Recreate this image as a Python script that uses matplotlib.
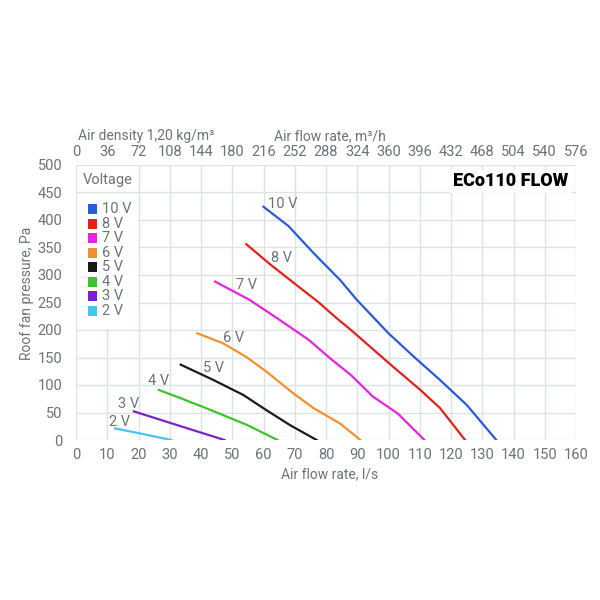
import matplotlib.pyplot as plt
from matplotlib.patches import Rectangle

plt.rcParams['font.family'] = ['Roboto', 'DejaVu Sans']

# fan curves, air flow l/s vs pressure Pa
v10_x = [60, 68, 76, 84.5, 90, 100, 108, 116.5, 125, 134.5]
v10_y = [424, 389, 340, 291, 254, 194, 152, 109, 64, 0]
v8_x = [54.5, 62, 70.5, 77.5, 83.5, 88, 101.5, 110, 116.5, 124.5]
v8_y = [356, 320, 282, 251, 221, 200, 133, 92, 58, 0]
v7_x = [44.5, 55.5, 65, 74.5, 81, 88, 95, 103, 111.5]
v7_y = [288, 255, 219, 182, 150, 118, 79, 48, 0]
v6_x = [38.8, 47, 54.5, 61, 69.5, 76, 84.5, 91]
v6_y = [194, 176, 151, 124, 85, 58, 30, 0]
v5_x = [33.5, 44, 53.5, 61, 68.5, 77]
v5_y = [137, 109, 82, 54, 27, 0]
v4_x = [26.5, 33.5, 42, 54.5, 64.5]
v4_y = [91, 76, 57, 28, 0]
v3_x = [18.5, 28, 38, 47.5]
v3_y = [52, 35, 17, 0]
v2_x = [12.5, 20.5, 30.5]
v2_y = [21, 12, 0]

labels = ['10 V', '8 V', '7 V', '6 V', '5 V', '4 V', '3 V', '2 V']
colors = ['#2a5bd7', '#e3211c', '#e724dc', '#f0912b', '#1a1a1a', '#3cc52a', '#7a22d1', '#45c4f0']
curves = [(v10_x, v10_y), (v8_x, v8_y), (v7_x, v7_y), (v6_x, v6_y),
          (v5_x, v5_y), (v4_x, v4_y), (v3_x, v3_y), (v2_x, v2_y)]
# where the curve labels sit
label_pos = [(61.5, 429), (62.4, 331), (51.2, 282), (47.1, 186),
             (40.5, 130), (22.9, 107), (13.5, 65), (10.7, 32)]

grey = '#6b7378'
gridc = '#dde2e5'
fs = 10.5

fig = plt.figure(figsize=(6, 6), dpi=100)
ax = fig.add_axes([76/600, 1-440/600, 500/600, 275/600])
ax.set_xlim(0, 160)
ax.set_ylim(0, 500)
ax.set_xticks(range(0, 161, 10))
ax.set_yticks(range(0, 501, 50))
ax.grid(True, color=gridc, lw=1)
ax.set_axisbelow(True)
for s in ax.spines.values():
    s.set_visible(False)
ax.tick_params(length=0, labelsize=fs, labelcolor=grey, pad=6)
ax.tick_params(axis='y', pad=10)

ax.set_xlabel('Air flow rate, l/s', fontsize=10, color=grey)
ax.xaxis.set_label_coords(0.507, -0.1)
ax.set_ylabel('Roof fan pressure, Pa', fontsize=10, color=grey)
ax.yaxis.set_label_coords(-0.084, 0.535)

top = ax.secondary_xaxis('top', functions=(lambda x: x * 3.6, lambda x: x / 3.6))
top.set_xticks(range(0, 577, 36))
top.tick_params(length=0, labelsize=fs, labelcolor=grey, pad=4)
for s in top.spines.values():
    s.set_visible(False)
fig.text(78/600, 1-136/600, 'Air density 1,20 kg/m³', fontsize=10, color=grey, va='center')
fig.text(330/600, 1-136/600, 'Air flow rate, m³/h', fontsize=10, color=grey, va='center', ha='center')

# legend box
ax.add_patch(Rectangle((0.4, 201), 19.3, 298, facecolor='white', edgecolor='none', zorder=1.5))
ax.plot([0, 20], [450, 450], color=gridc, lw=1, zorder=1.6)
ax.text(2.2, 473, 'Voltage', fontsize=fs, color=grey, va='center', zorder=3)
for i, (lab, c) in enumerate(zip(labels, colors)):
    yy = 419.5 - i * 26.4
    ax.add_patch(Rectangle((3.8, yy - 9), 2.9, 18, facecolor=c, edgecolor='none', zorder=3))
    ax.text(8.3, yy, lab, fontsize=fs, color=grey, va='center', zorder=3)

for (xs, ys), c, lab, (lx, ly) in zip(curves, colors, labels, label_pos):
    ax.plot(xs, ys, color=c, lw=1.6, zorder=4)
    ax.text(lx, ly, lab, fontsize=fs, color=grey, va='center', ha='left', zorder=4)

ax.text(157.4, 470, 'ECo110 FLOW', fontsize=13, fontweight='black', color='black',
        ha='right', va='center', zorder=3,
        bbox=dict(facecolor='white', edgecolor='none', pad=2))

fig.savefig('out.png', dpi=100, facecolor='white')
